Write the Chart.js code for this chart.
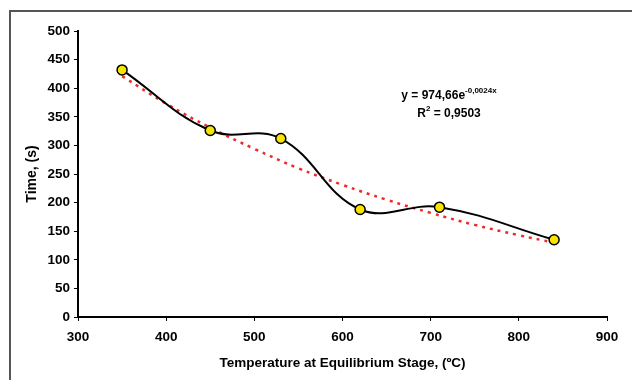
<!DOCTYPE html>
<html>
<head>
<meta charset="utf-8">
<script src="https://cdn.jsdelivr.net/npm/chart.js@4"></script>
<style>
  body { margin: 0; background: #fff; }
  #wrap { position: relative; width: 632px; height: 380px; }
</style>
</head>
<body>
<div id="wrap"><canvas id="chart"></canvas></div>
<script>
// measured points
const temps = [350, 450, 530, 620, 710, 840];
const times = [432, 326, 312, 188, 192, 135];

// exponential trendline
const trendTemps = [350, 400, 450, 500, 550, 600, 650, 700, 750, 800, 840];
const trendTimes = [421, 373, 331, 294, 260, 231, 205, 182, 161, 143, 130];

const xTicks = [300, 400, 500, 600, 700, 800, 900];
const yTicks = [0, 50, 100, 150, 200, 250, 300, 350, 400, 450, 500];

const FONT = 'Liberation Sans, Arial, sans-serif';

const framePlugin = {
  id: 'frame',
  beforeDraw(chart) {
    const ctx = chart.ctx;
    ctx.save();
    ctx.strokeStyle = '#555';
    ctx.lineWidth = 2;
    ctx.strokeRect(10, 11, 700, 420);
    ctx.restore();
  }
};

// trendline equation + R²
const equationPlugin = {
  id: 'equation',
  afterDraw(chart) {
    const ctx = chart.ctx;
    const cx = 449;
    ctx.save();
    ctx.fillStyle = '#000';
    ctx.textBaseline = 'alphabetic';
    ctx.textAlign = 'left';

    const main = 'y = 974,66e', sup = '-0,0024x';
    ctx.font = 'bold 12px ' + FONT;
    const w1 = ctx.measureText(main).width;
    ctx.font = 'bold 8px ' + FONT;
    const w2 = ctx.measureText(sup).width;
    let x = cx - (w1 + w2) / 2;
    ctx.font = 'bold 12px ' + FONT;
    ctx.fillText(main, x, 99);
    ctx.font = 'bold 8px ' + FONT;
    ctx.fillText(sup, x + w1, 93);

    ctx.font = 'bold 12px ' + FONT;
    const r = 'R', rest = ' = 0,9503';
    const wr = ctx.measureText(r).width;
    const wrest = ctx.measureText(rest).width;
    ctx.font = 'bold 8px ' + FONT;
    const ws = ctx.measureText('2').width;
    x = cx - (wr + ws + wrest) / 2;
    ctx.font = 'bold 12px ' + FONT;
    ctx.fillText(r, x, 117);
    ctx.font = 'bold 8px ' + FONT;
    ctx.fillText('2', x + wr, 111);
    ctx.font = 'bold 12px ' + FONT;
    ctx.fillText(rest, x + wr + ws, 117);
    ctx.restore();
  }
};

new Chart(document.getElementById('chart'), {
  type: 'line',
  data: {
    datasets: [{
      label: 'Time',
      data: temps.map((t, i) => ({ x: t, y: times[i] })),
      borderColor: '#000',
      borderWidth: 2,
      tension: 0.4,
      pointRadius: 5,
      pointBackgroundColor: '#f7e500',
      pointBorderColor: '#000',
      pointBorderWidth: 1.5,
      order: 0
    }, {
      label: 'Trend',
      data: trendTemps.map((t, i) => ({ x: t, y: trendTimes[i] })),
      borderColor: '#ee2a24',
      borderWidth: 2.5,
      borderDash: [3, 5],
      tension: 0.4,
      pointRadius: 0,
      order: 1
    }]
  },
  options: {
    responsive: true,
    maintainAspectRatio: false,
    animation: false,
    layout: { padding: { top: 31, right: 25, left: 0, bottom: 0 } },
    plugins: { legend: { display: false }, tooltip: { enabled: false } },
    scales: {
      x: {
        type: 'linear',
        min: 300,
        max: 900,
        afterBuildTicks(scale) { scale.ticks = xTicks.map(v => ({ value: v })); },
        afterFit(scale) { scale.height = 63; },
        border: { color: '#000', width: 2 },
        grid: { drawOnChartArea: false, drawTicks: true, tickLength: 4, color: '#000' },
        ticks: { color: '#000', padding: 8, maxRotation: 0, font: { family: FONT, size: 13.5, weight: 'bold' } },
        title: {
          display: true,
          text: 'Temperature at Equilibrium Stage, (ºC)',
          color: '#000',
          padding: { top: 0, bottom: 9 },
          font: { family: FONT, size: 13.5, weight: 'bold' }
        }
      },
      y: {
        min: 0,
        max: 500,
        afterBuildTicks(scale) { scale.ticks = yTicks.map(v => ({ value: v })); },
        afterFit(scale) { scale.width = 78; },
        border: { color: '#000', width: 2 },
        grid: { drawOnChartArea: false, drawTicks: true, tickLength: 4, color: '#000' },
        ticks: { color: '#000', padding: 4, font: { family: FONT, size: 13.5, weight: 'bold' } },
        title: {
          display: true,
          text: 'Time, (s)',
          color: '#000',
          padding: { top: 24, bottom: 24 },
          font: { family: FONT, size: 14, weight: 'bold' }
        }
      }
    }
  },
  plugins: [framePlugin, equationPlugin]
});
</script>
</body>
</html>
